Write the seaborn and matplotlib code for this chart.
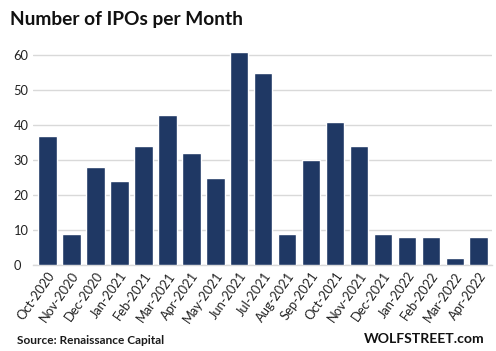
import seaborn as sns
import matplotlib.pyplot as plt
import pandas as pd

# data
months = ['Oct-2020', 'Nov-2020', 'Dec-2020', 'Jan-2021', 'Feb-2021', 'Mar-2021',
          'Apr-2021', 'May-2021', 'Jun-2021', 'Jul-2021', 'Aug-2021', 'Sep-2021',
          'Oct-2021', 'Nov-2021', 'Dec-2021', 'Jan-2022', 'Feb-2022', 'Mar-2022',
          'Apr-2022']
ipos = [37, 9, 28, 24, 34, 43, 32, 25, 61, 55, 9, 30, 41, 34, 9, 8, 8, 2, 8]

df = pd.DataFrame({'month': months, 'ipos': ipos})

sns.set_style('white')
plt.rcParams['font.family'] = ['Lato', 'DejaVu Sans']

fig = plt.figure(figsize=(4.96, 3.51), dpi=100)
ax = fig.add_axes([33 / 496, 86 / 351, 459 / 496, 217 / 351])

sns.barplot(data=df, x='month', y='ipos', color='#1F3864', saturation=1,
            width=0.78, ax=ax, zorder=3)

ax.set_ylim(0, 62)
ax.set_yticks(range(0, 61, 10))
ax.yaxis.grid(True, color='#D9D9D9', linewidth=1, zorder=0)
ax.set_xlim(-0.6, len(months) - 0.45)
for s in ['top', 'right', 'left']:
    ax.spines[s].set_visible(False)
ax.spines['bottom'].set_color('#D9D9D9')
ax.spines['bottom'].set_linewidth(1)
ax.set_xlabel('')
ax.set_ylabel('')
ax.tick_params(axis='both', length=0, labelsize=9.3, colors='#222222')
ax.tick_params(axis='y', pad=14)
plt.setp(ax.get_xticklabels(), rotation=55, ha='right', rotation_mode='anchor')
plt.setp(ax.get_yticklabels(), ha='left')

fig.text(10 / 496, 1 - 20 / 351, 'Number of IPOs per Month', fontsize=13.8,
         fontweight='bold', color='#111111', va='center', ha='left')
fig.text(17 / 496, 1 - 340 / 351, 'Source: Renaissance Capital', fontsize=8.6,
         fontweight='bold', color='#1a1a1a', va='center', ha='left')
fig.text(484 / 496, 1 - 339 / 351, 'WOLFSTREET.com', fontsize=10.1,
         fontweight='bold', color='#111111', va='center', ha='right')

fig.savefig('out.png', dpi=100)
